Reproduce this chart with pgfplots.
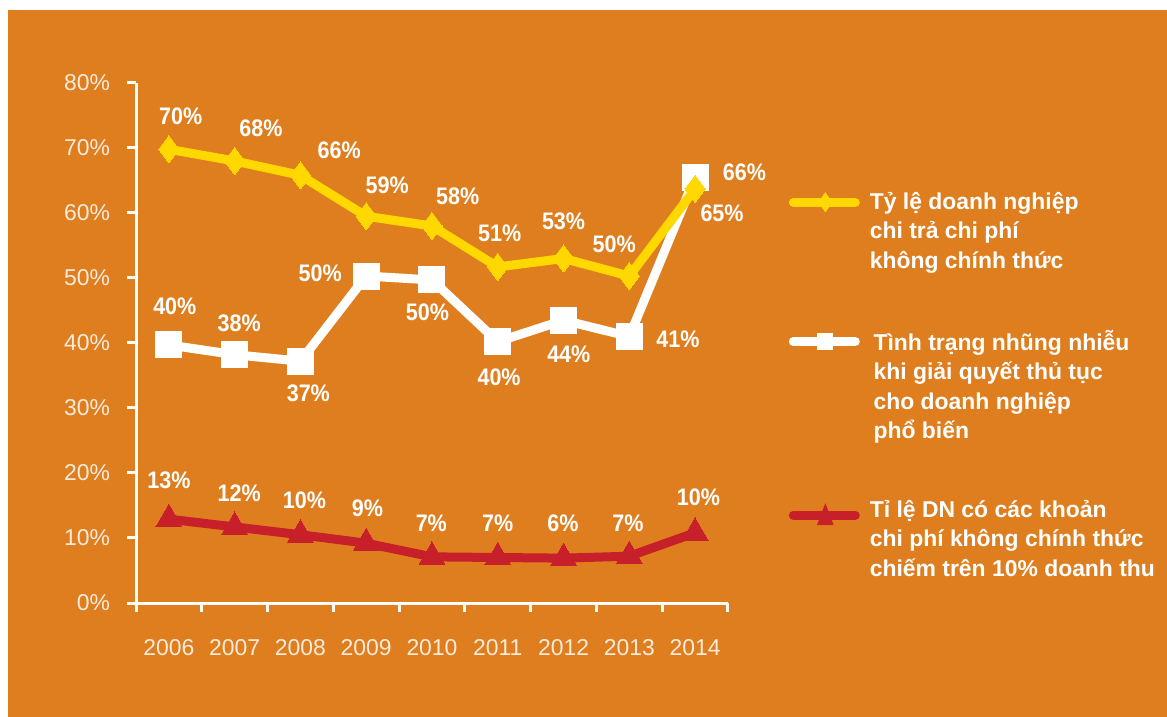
\documentclass[border=0pt]{standalone}
\usepackage{pgfplots}
\pgfplotsset{compat=1.18}
\usepackage{fontspec}
\setmainfont{Liberation Sans}
\newfontfamily\labfont[FakeStretch=0.9]{Liberation Sans}
\definecolor{bgorange}{HTML}{DF7E1F}
\definecolor{gold}{HTML}{FFD800}
\definecolor{dred}{HTML}{C8202A}
\definecolor{tickc}{HTML}{FAEBDC}

\begin{document}
\begin{tikzpicture}
\fill[white] (-68bp,-57bp) rectangle (515.5bp,301.5bp);
\fill[bgorange] (-64bp,-57bp) rectangle (515.5bp,296.5bp);
\begin{axis}[
  at={(0,0)}, anchor=south west,
  scale only axis, width=296bp, height=260bp,
  xmin=-0.5, xmax=8.5, ymin=0, ymax=80,
  axis lines*=left,
  axis line style={white, line width=1.5bp},
  xtick={-0.5,0.5,...,8.5},
  x tick label as interval,
  xticklabels={2006,2007,2008,2009,2010,2011,2012,2013,2014},
  ytick={0,10,...,80},
  yticklabel={\pgfmathprintnumber{\tick}\%},
  tick style={white, line width=1.5bp},
  major tick length=4.5bp,
  tick align=outside,
  every tick label/.append style={font=\fontsize{11.5}{13}\selectfont, text=tickc},
  xticklabel style={yshift=-10bp},
  yticklabel style={xshift=-5bp},
  /pgf/number format/assume math mode=true,
  clip=false,
  reverse legend,
  legend style={at={(1.092,0.806)}, anchor=north west, draw=none, fill=none,
    font=\bfseries\fontsize{11.5}{14.75}\selectfont, text=white,
    row sep=25.5bp, cells={anchor=west, align=left}},
]
\addplot[dred, line width=4.5bp, mark=triangle*, mark size=7.5bp, mark options={line width=0pt},
  legend image code/.code={
    \draw[dred, line width=4.5bp, line cap=round] (0bp,12.4bp) -- (31bp,12.4bp);
    \fill[dred, draw=none] (16bp,18.4bp) -- (11.8bp,7.4bp) -- (20.2bp,7.4bp) -- cycle;
    \path (34bp,12.4bp);
  }]
coordinates {(0,12.9) (1,11.7) (2,10.5) (3,9.2) (4,7.1) (5,7.0) (6,6.9) (7,7.2) (8,10.8)};
\addlegendentry{Tỉ lệ DN có các khoản\\chi phí không chính thức\\chiếm trên 10\% doanh thu}

\addplot[white, line width=4.5bp, mark=square*, mark size=6.5bp, mark options={line width=0pt},
  legend image code/.code={
    \draw[white, line width=4.5bp, line cap=round] (0bp,22.1bp) -- (31bp,22.1bp);
    \fill[white, draw=none] (12bp,17.8bp) rectangle (20bp,26.4bp);
    \path (34bp,22.1bp);
  }]
coordinates {(0,39.7) (1,38.2) (2,37.2) (3,50.3) (4,49.7) (5,40.2) (6,43.5) (7,41.0) (8,65.5)};
\addlegendentry{\,Tình trạng nhũng nhiễu\\\,khi giải quyết thủ tục\\\,cho doanh nghiệp\\\,phổ biến}

\addplot[gold, line width=4.5bp, mark=diamond*, mark size=6.75bp, mark options={line width=0pt},
  legend image code/.code={
    \draw[gold, line width=4.5bp, line cap=round] (0bp,14.7bp) -- (31bp,14.7bp);
    \fill[gold, draw=none] (16bp,19.8bp) -- (12.5bp,14.7bp) -- (16bp,9.6bp) -- (19.5bp,14.7bp) -- cycle;
    \path (34bp,14.7bp);
  }]
coordinates {(0,69.8) (1,68.0) (2,65.8) (3,59.5) (4,58.0) (5,51.7) (6,53.0) (7,50.3) (8,63.7)};
\addlegendentry{Tỷ lệ doanh nghiệp\\chi trả chi phí\\không chính thức}

\begin{scope}[every node/.style={font=\labfont\bfseries\fontsize{12}{14}\selectfont, text=white}]
% yellow labels
\node at (axis cs:0.18,74.9) {70\%};
\node at (axis cs:1.40,73.1) {68\%};
\node at (axis cs:2.59,69.7) {66\%};
\node at (axis cs:3.32,64.3) {59\%};
\node at (axis cs:4.39,62.5) {58\%};
\node at (axis cs:5.03,56.8) {51\%};
\node at (axis cs:6.00,58.8) {53\%};
\node at (axis cs:6.77,55.2) {50\%};
\node at (axis cs:8.41,60.0) {65\%};
% white labels
\node at (axis cs:0.09,45.7) {40\%};
\node at (axis cs:1.07,43.1) {38\%};
\node at (axis cs:2.12,32.2) {37\%};
\node at (axis cs:2.30,50.8) {50\%};
\node at (axis cs:3.93,44.8) {50\%};
\node at (axis cs:5.02,34.8) {40\%};
\node at (axis cs:6.08,38.2) {44\%};
\node at (axis cs:7.74,40.6) {41\%};
\node at (axis cs:8.75,66.3) {66\%};
% red labels
\node at (axis cs:0.00,18.9) {13\%};
\node at (axis cs:1.07,16.9) {12\%};
\node at (axis cs:2.06,15.8) {10\%};
\node at (axis cs:3.02,14.6) {9\%};
\node at (axis cs:3.99,12.2) {7\%};
\node at (axis cs:5.00,12.2) {7\%};
\node at (axis cs:5.99,12.2) {6\%};
\node at (axis cs:6.98,12.2) {7\%};
\node at (axis cs:8.05,16.3) {10\%};
\end{scope}
\end{axis}
\end{tikzpicture}
\end{document}
